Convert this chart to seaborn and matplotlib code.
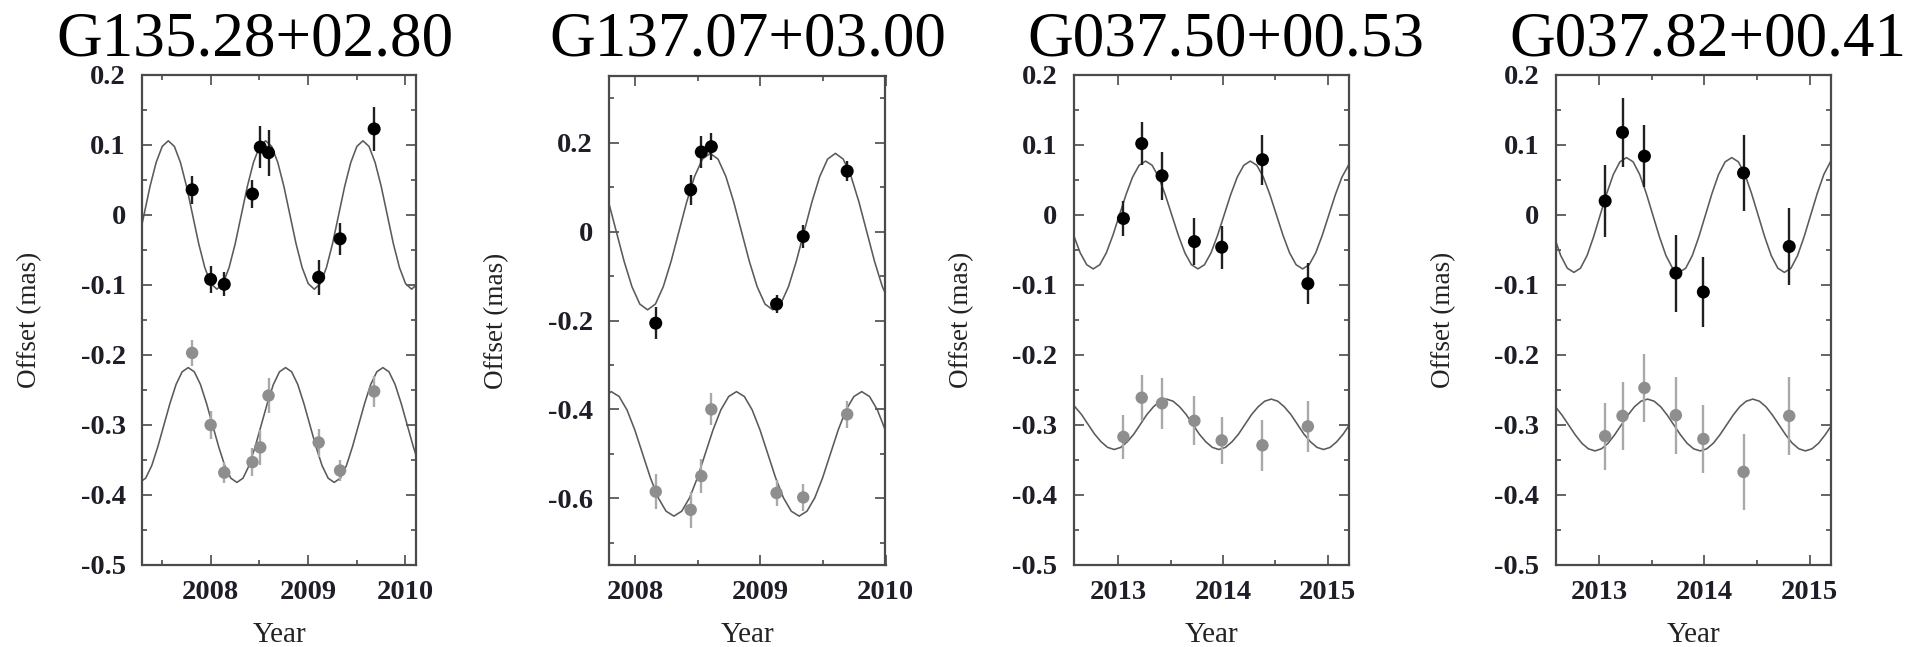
import numpy as np
import matplotlib
matplotlib.use("Agg")
import matplotlib.pyplot as plt
import seaborn as sns
from matplotlib.ticker import MultipleLocator, FuncFormatter

# ---------------- data ----------------
sources = ["G135.28+02.80", "G137.07+03.00", "G037.50+00.53", "G037.82+00.41"]

epochs_1 = [2007.81, 2008.00, 2008.14, 2008.43, 2008.51, 2008.595, 2009.11, 2009.33, 2009.68]
black_1 = [0.036, -0.092, -0.099, 0.030, 0.097, 0.089, -0.089, -0.034, 0.123]
black_err_1 = [0.020, 0.019, 0.017, 0.020, 0.030, 0.033, 0.025, 0.023, 0.032]
gray_1 = [-0.197, -0.300, -0.368, -0.353, -0.332, -0.258, -0.325, -0.365, -0.252]
gray_err_1 = [0.019, 0.020, 0.015, 0.020, 0.025, 0.025, 0.020, 0.015, 0.022]

epochs_2 = [2008.165, 2008.444, 2008.529, 2008.609, 2009.13, 2009.343, 2009.694]
black_2 = [-0.206, 0.094, 0.179, 0.191, -0.163, -0.011, 0.136]
black_err_2 = [0.036, 0.034, 0.036, 0.030, 0.020, 0.025, 0.022]
gray_2 = [-0.585, -0.626, -0.550, -0.400, -0.588, -0.598, -0.411]
gray_err_2 = [0.040, 0.040, 0.038, 0.036, 0.030, 0.030, 0.030]

epochs_3 = [2013.048, 2013.223, 2013.417, 2013.726, 2013.987, 2014.376, 2014.81]
black_3 = [-0.005, 0.102, 0.056, -0.038, -0.046, 0.079, -0.098]
black_err_3 = [0.025, 0.031, 0.034, 0.034, 0.031, 0.036, 0.029]
gray_3 = [-0.317, -0.261, -0.269, -0.294, -0.322, -0.329, -0.302]
gray_err_3 = [0.032, 0.033, 0.036, 0.035, 0.034, 0.036, 0.036]

epochs_4 = [2013.057, 2013.222, 2013.43, 2013.729, 2013.99, 2014.372, 2014.806]
black_4 = [0.020, 0.118, 0.084, -0.083, -0.110, 0.060, -0.045]
black_err_4 = [0.051, 0.049, 0.044, 0.055, 0.050, 0.054, 0.055]
gray_4 = [-0.316, -0.287, -0.247, -0.286, -0.320, -0.367, -0.287]
gray_err_4 = [0.048, 0.048, 0.048, 0.055, 0.048, 0.054, 0.056]

# fitted curves, sampled every 1/16 yr from the given start epoch
curve_step = 0.0625
top_start = [2007.2525, 2007.7875, 2012.5725, 2012.5725]
bottom_start = [2007.27, 2007.7475, 2012.5225, 2012.5225]

top_curve_1 = [-0.041, 0.000, 0.041, 0.075, 0.098,
               0.106, 0.098, 0.075, 0.041, 0.000, -0.041, -0.075, -0.098, -0.106, -0.098, -0.075, -0.041, 0.000, 0.041, 0.075, 0.098,
               0.106, 0.098, 0.075, 0.041, 0.000, -0.041, -0.075, -0.098, -0.106, -0.098, -0.075, -0.041, 0.000, 0.041, 0.075, 0.098,
               0.106, 0.098, 0.075, 0.041, 0.000, -0.041, -0.075, -0.098, -0.106, -0.098]
bottom_curve_1 = [-0.382, -0.376, -0.358, -0.331, -0.300, -0.269, -0.242, -0.224,
                  -0.218, -0.224, -0.242, -0.269, -0.300, -0.331, -0.358, -0.376, -0.382, -0.376, -0.358, -0.331, -0.300, -0.269, -0.242, -0.224,
                  -0.218, -0.224, -0.242, -0.269, -0.300, -0.331, -0.358, -0.376, -0.382, -0.376, -0.358, -0.331, -0.300, -0.269, -0.242, -0.224,
                  -0.218, -0.224, -0.242, -0.269, -0.300, -0.331, -0.358]
top_curve_2 = [0.067, 0.000, -0.067, -0.124, -0.163, -0.176, -0.163, -0.124, -0.067, 0.000, 0.067, 0.124, 0.163,
               0.176, 0.163, 0.124, 0.067, 0.000, -0.067, -0.124, -0.163, -0.176, -0.163, -0.124, -0.067, 0.000, 0.067, 0.124, 0.163,
               0.176, 0.163, 0.124, 0.067, 0.000, -0.067, -0.124, -0.163]
bottom_curve_2 = [-0.371,
                  -0.360, -0.371, -0.401, -0.446, -0.500, -0.554, -0.599, -0.629, -0.640, -0.629, -0.599, -0.554, -0.500, -0.446, -0.401, -0.371,
                  -0.360, -0.371, -0.401, -0.446, -0.500, -0.554, -0.599, -0.629, -0.640, -0.629, -0.599, -0.554, -0.500, -0.446, -0.401, -0.371,
                  -0.360, -0.371, -0.401, -0.446, -0.500]
top_curve_3 = [-0.029, -0.054, -0.071, -0.077, -0.071, -0.054, -0.029, 0.000, 0.029, 0.054, 0.071,
               0.077, 0.071, 0.054, 0.029, 0.000, -0.029, -0.054, -0.071, -0.077, -0.071, -0.054, -0.029, 0.000, 0.029, 0.054, 0.071,
               0.077, 0.071, 0.054, 0.029, 0.000, -0.029, -0.054, -0.071, -0.077, -0.071, -0.054, -0.029, 0.000, 0.029, 0.054, 0.071,
               0.077]
bottom_curve_3 = [-0.266,
                  -0.274, -0.285, -0.299, -0.313, -0.324, -0.332, -0.335, -0.332, -0.324, -0.313, -0.299, -0.285, -0.274, -0.266,
                  -0.263, -0.266, -0.274, -0.285, -0.299, -0.313, -0.324, -0.332, -0.335, -0.332, -0.324, -0.313, -0.299, -0.285, -0.274, -0.266,
                  -0.263, -0.266, -0.274, -0.285, -0.299, -0.313, -0.324, -0.332, -0.335, -0.332, -0.324, -0.313, -0.299]
top_curve_4 = [-0.031, -0.058, -0.076, -0.082, -0.076, -0.058, -0.031, 0.000, 0.031, 0.058, 0.076,
               0.082, 0.076, 0.058, 0.031, 0.000, -0.031, -0.058, -0.076, -0.082, -0.076, -0.058, -0.031, 0.000, 0.031, 0.058, 0.076,
               0.082, 0.076, 0.058, 0.031, 0.000, -0.031, -0.058, -0.076, -0.082, -0.076, -0.058, -0.031, 0.000, 0.031, 0.058, 0.076,
               0.082]
bottom_curve_4 = [-0.266,
                  -0.274, -0.286, -0.300, -0.314, -0.326, -0.334, -0.337, -0.334, -0.326, -0.314, -0.300, -0.286, -0.274, -0.266,
                  -0.263, -0.266, -0.274, -0.286, -0.300, -0.314, -0.326, -0.334, -0.337, -0.334, -0.326, -0.314, -0.300, -0.286, -0.274, -0.266,
                  -0.263, -0.266, -0.274, -0.286, -0.300, -0.314, -0.326, -0.334, -0.337, -0.334, -0.326, -0.314, -0.300]

x_label = "Year"
y_label = "Offset (mas)"

# ---------------- styling / layout ----------------
sns.set_theme(style="ticks")
plt.rcParams["font.family"] = ["Liberation Serif", "DejaVu Serif"]
plt.rcParams["axes.unicode_minus"] = False

W, H = 1908, 647
fig = plt.figure(figsize=(W / 100, H / 100), dpi=100)
fig.patch.set_facecolor("white")

# pixel boxes: left, right, top, bottom
boxes = [(142.5, 415.7, 75, 565), (609.3, 885.5, 76, 565),
         (1074.0, 1348.7, 75, 565), (1556.0, 1830.7, 75, 565)]
xlims = [(2007.30, 2010.107), (2007.794, 2010.0), (2012.576, 2015.20), (2012.59, 2015.20)]
ylims = [(-0.5, 0.2), (-0.75, 0.35), (-0.5, 0.2), (-0.5, 0.2)]
ymajor = [0.1, 0.2, 0.1, 0.1]
yminor = [0.05, 0.1, 0.05, 0.05]
title_cx = [255, 748, 1226, 1708]

epochs = [epochs_1, epochs_2, epochs_3, epochs_4]
blacks = [black_1, black_2, black_3, black_4]
black_errs = [black_err_1, black_err_2, black_err_3, black_err_4]
grays = [gray_1, gray_2, gray_3, gray_4]
gray_errs = [gray_err_1, gray_err_2, gray_err_3, gray_err_4]
top_curves = [top_curve_1, top_curve_2, top_curve_3, top_curve_4]
bottom_curves = [bottom_curve_1, bottom_curve_2, bottom_curve_3, bottom_curve_4]

fmt = FuncFormatter(lambda v, p: f"{round(v, 3) + 0.0:g}")
spine_col = "#4a4a4a"
tick_lab_col = "#1e1e28"

for i in range(4):
    l, r, t, b = boxes[i]
    ax = fig.add_axes([l / W, (H - b) / H, (r - l) / W, (b - t) / H])
    ax.set_facecolor("white")

    for start, vals in ((top_start[i], top_curves[i]), (bottom_start[i], bottom_curves[i])):
        xs = start + curve_step * np.arange(len(vals))
        sns.lineplot(x=xs, y=vals, ax=ax, color="#5a5a5a", linewidth=1.15,
                     sort=False, estimator=None, zorder=1)

    ax.errorbar(epochs[i], grays[i], yerr=gray_errs[i], fmt="none",
                ecolor="#a9a9a9", elinewidth=1.7, capsize=0, zorder=2)
    ax.errorbar(epochs[i], blacks[i], yerr=black_errs[i], fmt="none",
                ecolor="#202020", elinewidth=1.7, capsize=0, zorder=2)
    sns.scatterplot(x=epochs[i], y=grays[i], ax=ax, color="#8e8e8e", s=80,
                    edgecolor="none", zorder=3)
    sns.scatterplot(x=epochs[i], y=blacks[i], ax=ax, color="black", s=88,
                    edgecolor="none", zorder=4)

    ax.set_xlim(*xlims[i])
    ax.set_ylim(*ylims[i])
    ax.xaxis.set_major_locator(MultipleLocator(1))
    ax.xaxis.set_minor_locator(MultipleLocator(0.5))
    ax.yaxis.set_major_locator(MultipleLocator(ymajor[i]))
    ax.yaxis.set_minor_locator(MultipleLocator(yminor[i]))
    ax.xaxis.set_major_formatter(fmt)
    ax.yaxis.set_major_formatter(fmt)

    for s in ax.spines.values():
        s.set_visible(True)
        s.set_color(spine_col)
        s.set_linewidth(1.6)

    ax.tick_params(which="both", direction="in", top=True, right=True,
                   color=spine_col, width=1.2)
    ax.tick_params(which="major", length=7.5)
    ax.tick_params(which="minor", length=3.5)
    ax.tick_params(axis="y", which="major", pad=12, labelsize=20.5, labelcolor=tick_lab_col)
    ax.tick_params(axis="x", which="major", pad=11, labelsize=20.5, labelcolor=tick_lab_col)
    for lab in ax.get_xticklabels() + ax.get_yticklabels():
        lab.set_fontweight("bold")

    ax.set_xlabel(x_label, fontsize=21, color="#222222")
    ax.set_ylabel(y_label, fontsize=19.5, color="#222222")
    ax.xaxis.set_label_coords(0.5, -57 / (b - t))
    ax.yaxis.set_label_coords(-100 / (r - l), 0.5)

    ax.set_title(sources[i], fontsize=45.5, color="black", pad=0,
                 x=(title_cx[i] - l) / (r - l), y=1 + (t - 55) / (b - t))
    ax.grid(False)

fig.savefig("out.png", dpi=100, facecolor="white")
